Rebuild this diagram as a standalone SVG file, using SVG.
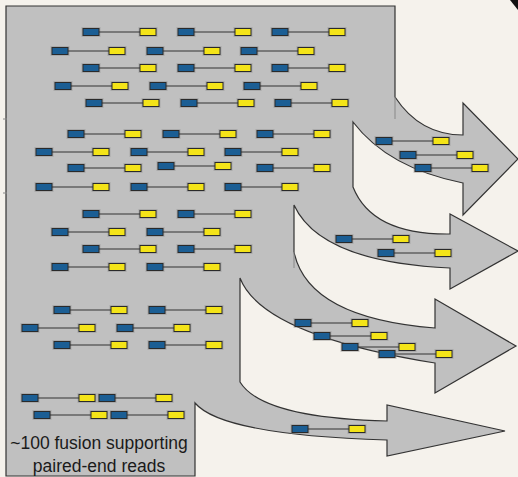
<svg xmlns="http://www.w3.org/2000/svg" xmlns:xlink="http://www.w3.org/1999/xlink" width="518" height="477" viewBox="0 0 518 477">
  <style>
    .shape { fill: #c0c0c0; stroke: #333; stroke-width: 1.2; stroke-linejoin: miter; }
    .faint { stroke: #888; stroke-width: 1; fill: none; }
    .blue { fill: #1b5e94; stroke: #2a2a2a; stroke-width: 1; }
    .yellow { fill: #f4e418; stroke: #2a2a2a; stroke-width: 1; }
    .halo { fill: #8a8a8a; opacity: 0.4; }
    .link { stroke: #333; stroke-width: 1.2; }
    .label { font-family: "Liberation Sans", Arial, sans-serif; font-size: 17.5px; fill: #1a1a1a; text-anchor: middle; }
  </style>
  <defs>
    <g id="read">
      <rect class="halo" x="-1.5" y="-5" width="19" height="10"/>
      <rect class="halo" x="55.5" y="-5" width="19" height="10"/>
      <line class="link" x1="16" y1="0" x2="57" y2="0"/>
      <rect class="blue" x="0" y="-3.5" width="16" height="7"/>
      <rect class="yellow" x="57" y="-3.5" width="16" height="7"/>
    </g>
  </defs>

  <rect x="0" y="0" width="518" height="477" fill="#f5f2ec"/>
  <polygon points="510,0 518,0 518,10" fill="#111"/>

  <g id="fusion-arrows">
    <path class="shape" d="M6,6 H395 V97 Q420,135 463,135 V103 L518,159 L463,215 V183 Q388,168 353,122 V187 Q372,235 450,234 V214 L518,251 L450,289 V268 Q320,262 294,205 V252 Q308,318 435,328 V299 L516,346 L435,393 V363 Q262,335 240,278 V382 Q262,418 387,421 V405 L505,431 L387,456 V440 Q222,435 195,403 V476 H6 Z"/>
    <line class="faint" x1="395" y1="97" x2="395" y2="119"/>
    <line class="faint" x1="294" y1="252" x2="294" y2="268"/>
    <line class="faint" x1="3" y1="119" x2="7" y2="119"/>
    <line class="faint" x1="3" y1="193" x2="7" y2="193"/>
  </g>

  <g id="reads-block1">
    <use xlink:href="#read" x="83" y="32"/><use xlink:href="#read" x="178" y="32"/><use xlink:href="#read" x="272" y="32"/>
    <use xlink:href="#read" x="52" y="51"/><use xlink:href="#read" x="147" y="51"/><use xlink:href="#read" x="241" y="51"/>
    <use xlink:href="#read" x="83" y="68"/><use xlink:href="#read" x="178" y="68"/><use xlink:href="#read" x="272" y="68"/>
    <use xlink:href="#read" x="55" y="86"/><use xlink:href="#read" x="150" y="86"/><use xlink:href="#read" x="244" y="86"/>
    <use xlink:href="#read" x="86" y="103"/><use xlink:href="#read" x="181" y="103"/><use xlink:href="#read" x="275" y="103"/>
  </g>
  <g id="reads-block2">
    <use xlink:href="#read" x="68" y="134"/><use xlink:href="#read" x="163" y="134"/><use xlink:href="#read" x="257" y="134"/>
    <use xlink:href="#read" x="36" y="152"/><use xlink:href="#read" x="131" y="152"/><use xlink:href="#read" x="225" y="152"/>
    <use xlink:href="#read" x="68" y="168"/><use xlink:href="#read" x="158" y="166"/><use xlink:href="#read" x="257" y="168"/>
    <use xlink:href="#read" x="36" y="187"/><use xlink:href="#read" x="131" y="187"/><use xlink:href="#read" x="225" y="187"/>
  </g>
  <g id="reads-block3">
    <use xlink:href="#read" x="83" y="214"/><use xlink:href="#read" x="178" y="214"/>
    <use xlink:href="#read" x="52" y="232"/><use xlink:href="#read" x="147" y="232"/>
    <use xlink:href="#read" x="83" y="249"/><use xlink:href="#read" x="178" y="249"/>
    <use xlink:href="#read" x="52" y="267"/><use xlink:href="#read" x="147" y="267"/>
  </g>
  <g id="reads-block4">
    <use xlink:href="#read" x="54" y="310"/><use xlink:href="#read" x="149" y="310"/>
    <use xlink:href="#read" x="22" y="328"/><use xlink:href="#read" x="117" y="328"/>
    <use xlink:href="#read" x="54" y="345"/><use xlink:href="#read" x="149" y="345"/>
  </g>
  <g id="reads-block5">
    <use xlink:href="#read" x="22" y="398"/><use xlink:href="#read" x="99" y="398"/>
    <use xlink:href="#read" x="34" y="415"/><use xlink:href="#read" x="111" y="415"/>
  </g>

  <g id="arrow1-reads">
    <use xlink:href="#read" x="376" y="141"/><use xlink:href="#read" x="400" y="155"/><use xlink:href="#read" x="415" y="168"/>
  </g>
  <g id="arrow2-reads">
    <use xlink:href="#read" x="336" y="239"/><use xlink:href="#read" x="378" y="253"/>
  </g>
  <g id="arrow3-reads">
    <use xlink:href="#read" x="295" y="323"/><use xlink:href="#read" x="314" y="336"/><use xlink:href="#read" x="342" y="347"/><use xlink:href="#read" x="379" y="354"/>
  </g>
  <g id="arrow4-reads">
    <use xlink:href="#read" x="292" y="429"/>
  </g>

  <g id="caption">
    <text class="label" x="99" y="449">~100 fusion supporting</text>
    <text class="label" x="99" y="472">paired-end reads</text>
  </g>
</svg>
